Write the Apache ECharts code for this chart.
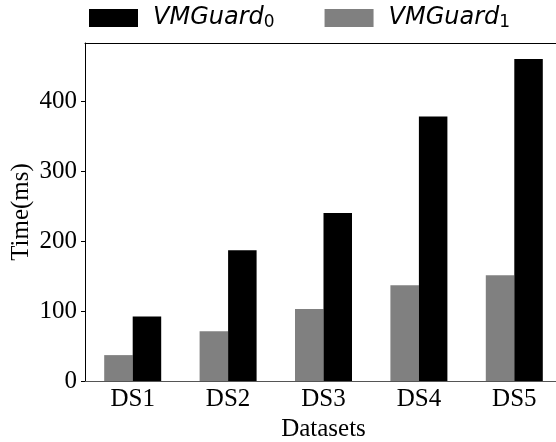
<!DOCTYPE html>
<html><head><meta charset="utf-8">
<script src="https://cdn.jsdelivr.net/npm/echarts@6/dist/echarts.min.js"></script>
<style>html,body{margin:0;padding:0;background:#fff;overflow:hidden;}#c{width:556px;height:442px;}</style>
</head><body><div id="c"></div>
<script>
const categories = ['DS1','DS2','DS3','DS4','DS5'];
const vmguard0 = [92, 187, 240, 378, 460];
const vmguard1 = [37, 71, 103, 137, 151];
const yTicks = [0, 100, 200, 300, 400];

const chart = echarts.init(document.getElementById('c'), null, {renderer:'canvas', width: 556, height: 442});
const serif = 'Liberation Serif';
chart.setOption({
  animation: false,
  backgroundColor: '#fff',
  legend: {
    left: 89, top: 6, padding: 0,
    itemWidth: 49, itemHeight: 18, itemGap: 50,
    selectedMode: false,
    icon: 'rect',
    data: ['VMGuard0_', 'VMGuard1_'],
    formatter: function(n){ return n === 'VMGuard0_' ? '{a|VMGuard}{b|0}' : '{a|VMGuard}{b|1}'; },
    textStyle: {
      rich: {
        a: {fontFamily: 'DejaVu Sans', fontStyle: 'italic', fontSize: 24, color: '#000', padding: [0,0,0,10]},
        b: {fontFamily: 'DejaVu Sans', fontSize: 17, color: '#000', padding: [10,0,0,0]}
      }
    }
  },
  grid: {left: 85, top: 43, width: 477, height: 338, containLabel: false, outerBoundsMode: 'none'},
  xAxis: [{
    type: 'category', data: categories,
    axisLine: {lineStyle: {color: '#555', width: 1}},
    axisTick: {alignWithLabel: true, length: 4, lineStyle: {color: '#000'}},
    axisLabel: {fontFamily: serif, fontSize: 25, color: '#000', margin: 6},
    name: 'Datasets', nameLocation: 'middle', nameGap: 36,
    nameTextStyle: {fontFamily: serif, fontSize: 25, color: '#000'}
  }, {
    type: 'category', data: categories, position: 'top',
    axisLine: {show: true, lineStyle: {color: '#000', width: 1}},
    axisTick: {show: false}, axisLabel: {show: false}
  }],
  yAxis: {
    type: 'value', min: 0, max: 483,
    axisLine: {show: true, lineStyle: {color: '#000', width: 1}},
    axisTick: {show: true, length: 4, lineStyle: {color: '#000'}, customValues: yTicks},
    splitLine: {show: false},
    axisLabel: {fontFamily: serif, fontSize: 25, color: '#000', margin: 8, customValues: yTicks},
    name: 'Time(ms)', nameLocation: 'middle', nameGap: 51, nameRotate: 90, nameMoveOverlap: false,
    nameTextStyle: {fontFamily: serif, fontSize: 25, color: '#000'}
  },
  series: [
    {name: 'VMGuard1_', type: 'bar', data: vmguard1, barWidth: 28.5, barGap: '0%',
     itemStyle: {color: '#808080'}},
    {name: 'VMGuard0_', type: 'bar', data: vmguard0, barWidth: 28.5, barGap: '0%',
     itemStyle: {color: '#000000'}}
  ]
});
</script></body></html>
